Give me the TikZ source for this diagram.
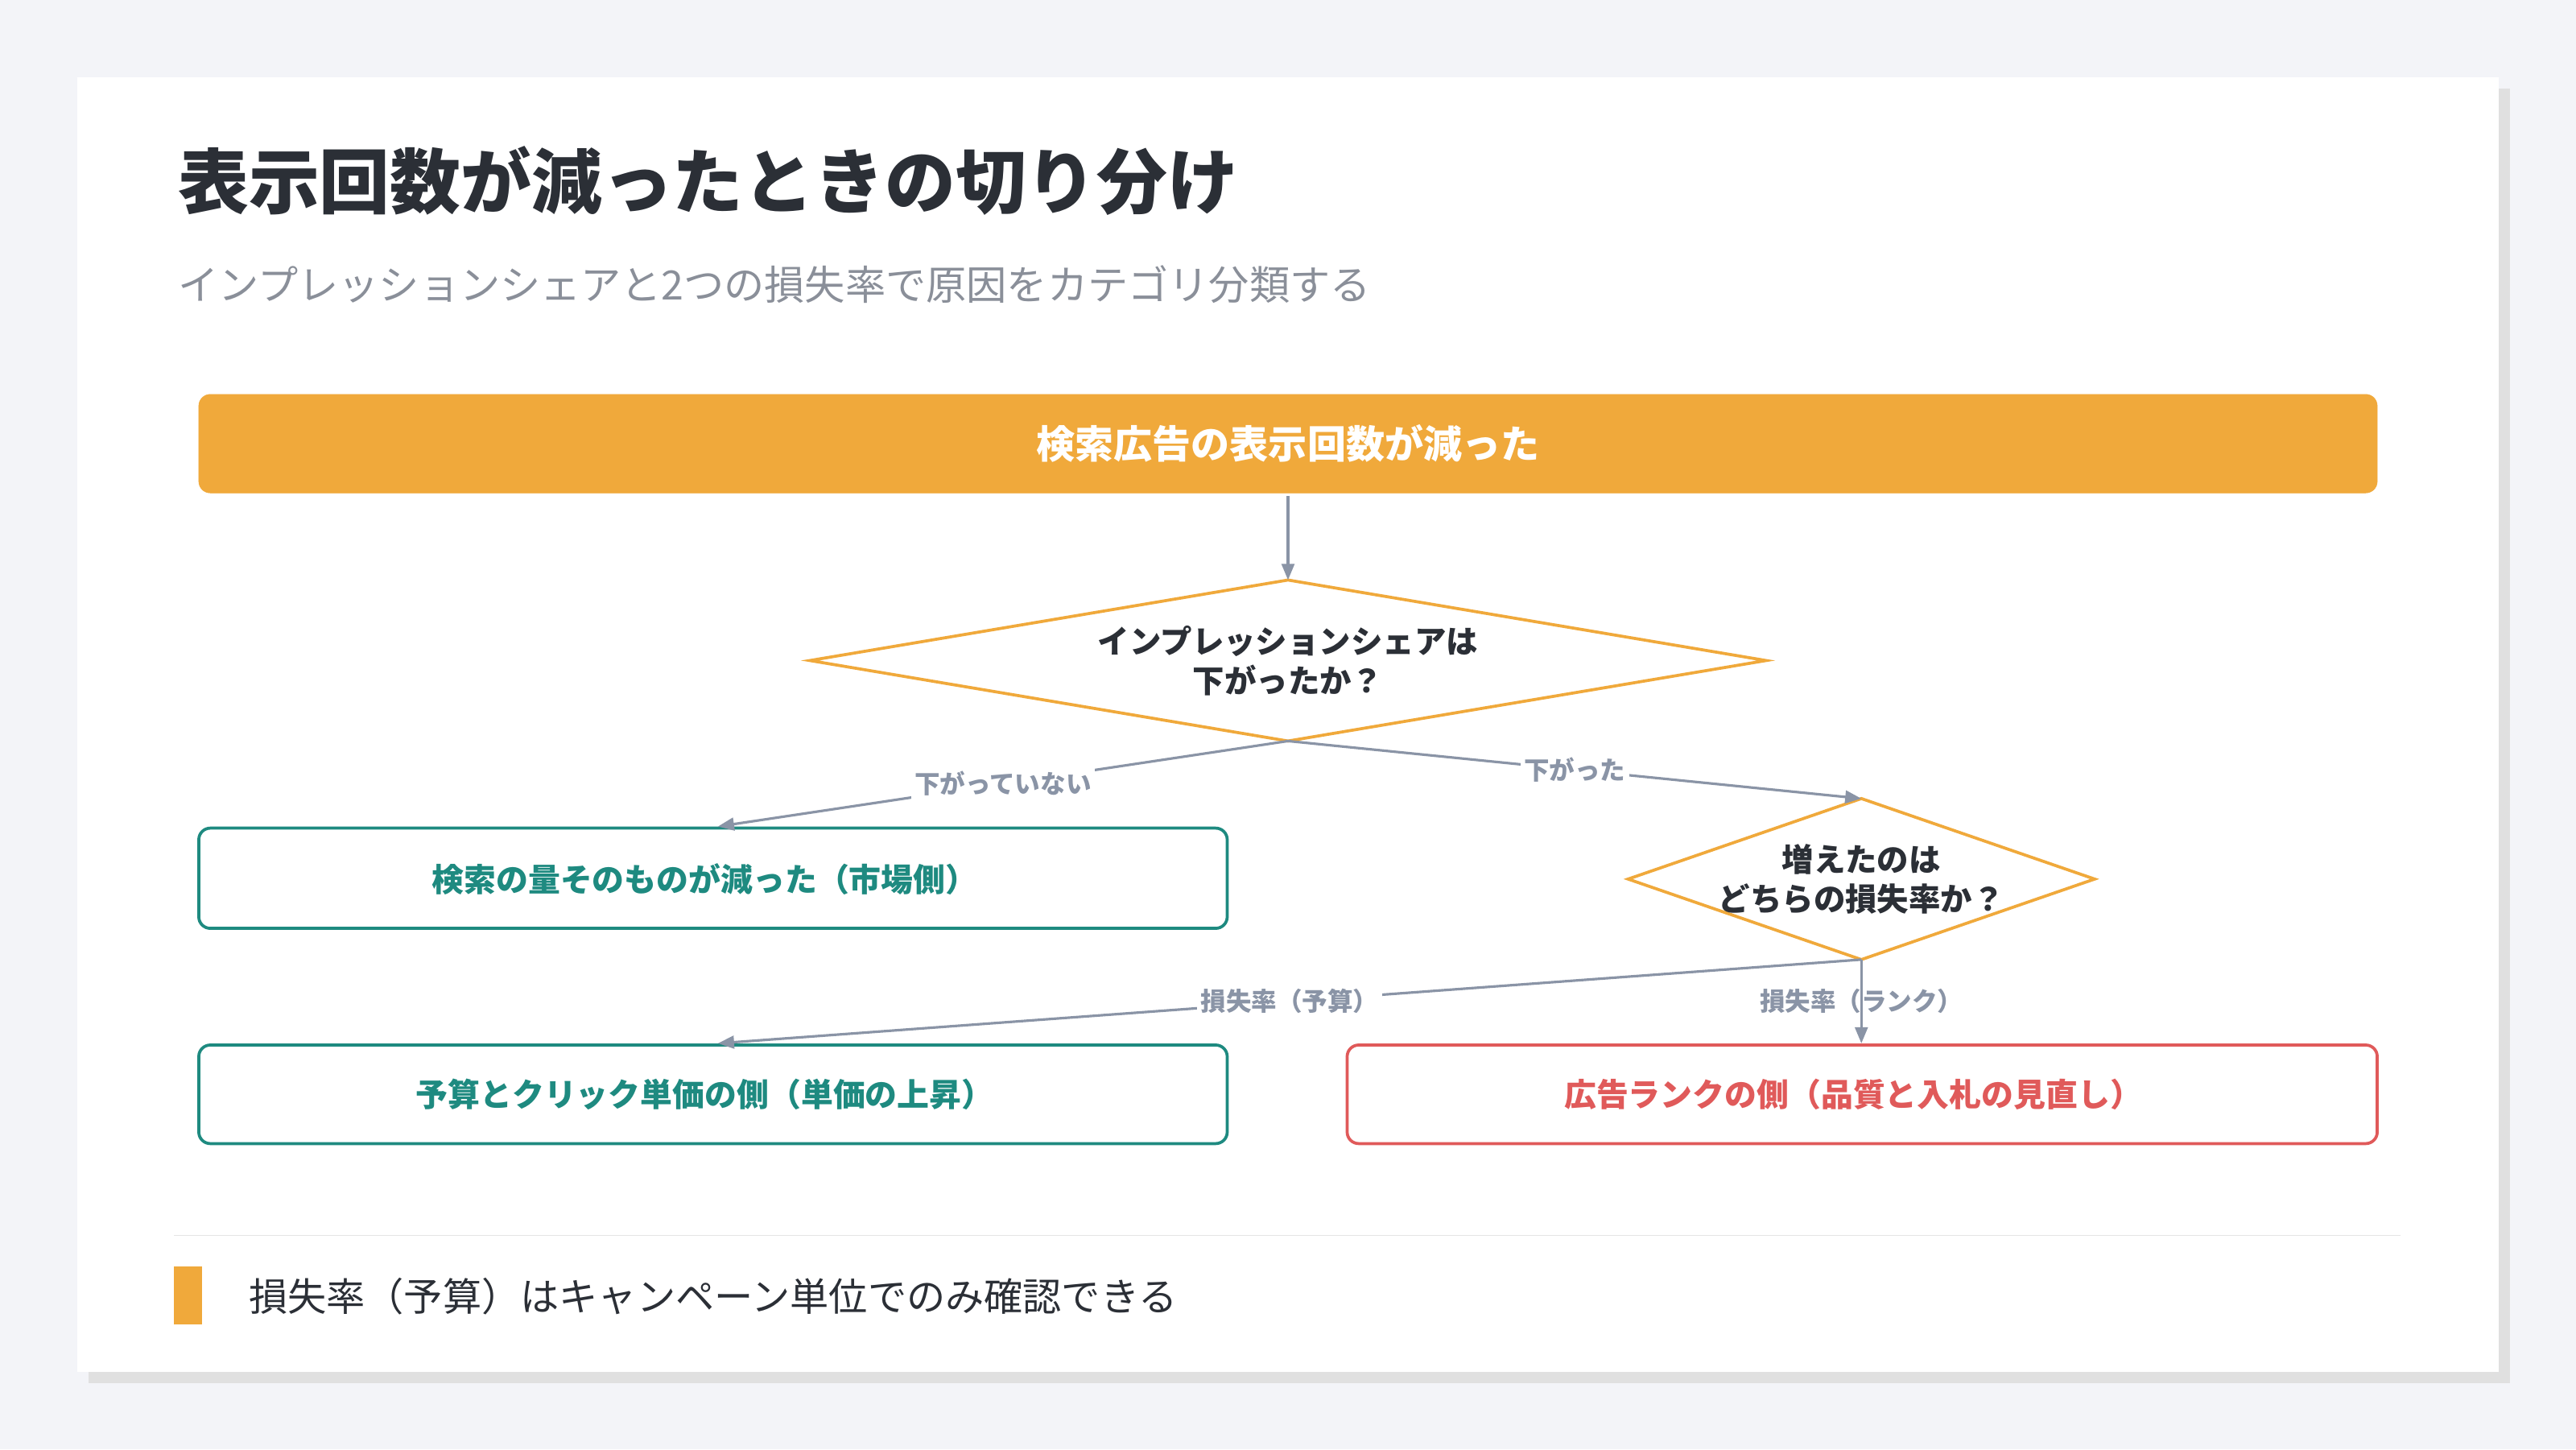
\documentclass[tikz,border=0pt]{standalone}
\usepackage{fontspec}
\setmainfont{Noto Sans CJK JP}
\usetikzlibrary{shapes.geometric,arrows.meta}
\definecolor{bgc}{HTML}{F3F4F8}
\definecolor{org}{HTML}{F0A93B}
\definecolor{teal}{HTML}{1E8A80}
\definecolor{redc}{HTML}{E05A5A}
\definecolor{edg}{HTML}{8A94A6}
\definecolor{ttl}{HTML}{2B2F36}
\definecolor{sub}{HTML}{8A8F99}
\begin{document}
\begin{tikzpicture}[x=0.5mm,y=-0.5mm,
  box/.style={draw,line width=2.6pt,rounded corners=10pt,fill=white},
  btxt/.style={font=\fontsize{27.8}{30}\selectfont\bfseries},
  dia/.style={font=\fontsize{27.5}{34}\selectfont\bfseries,text=ttl,align=center},
  edge/.style={draw=edg,line width=2.2pt,-{Triangle[length=14pt,width=11pt]}},
  lab/.style={fill=white,text=edg,font=\fontsize{22}{26}\selectfont\bfseries,inner sep=3pt}]
\fill[bgc] (0,0) rectangle (1568,882);
\useasboundingbox (0,0) rectangle (1568,882);
\fill[black!12] (54,54) rectangle (1528,842);
\fill[white] (47,47) rectangle (1521,835);
\node[anchor=west,text=ttl,font=\fontsize{61.2}{70}\selectfont\bfseries] (title) at (106,110) {表示回数が減ったときの切り分け};
\node[anchor=west,text=sub,font=\fontsize{35}{40}\selectfont] (subt) at (106,173) {インプレッションシェアと2つの損失率で原因をカテゴリ分類する};
\draw[org,fill=org,rounded corners=10pt] (121,240) rectangle (1447,300);
\node[text=white,font=\fontsize{33.5}{36}\selectfont\bfseries] (top) at (784,270) {検索広告の表示回数が減った};
\coordinate (topb) at (784,302);
\path[draw=org,line width=2.6pt,fill=white] (493,402) -- (784,353) -- (1075,402) -- (784,451) -- cycle;
\coordinate (d1t) at (784,353); \coordinate (d1b) at (784,451);
\node[dia] (d1) at (784,402) {インプレッションシェアは\\下がったか？};
\path[draw=org,line width=2.6pt,fill=white] (991,535) -- (1133,486) -- (1275,535) -- (1133,584) -- cycle;
\coordinate (d2t) at (1133,486); \coordinate (d2b) at (1133,584);
\node[dia] (d2) at (1133,535) {増えたのは\\どちらの損失率か？};
\draw[box,draw=teal] (121,504) rectangle (747,565);
\node[btxt,text=teal] (b1) at (429,535) {検索の量そのものが減った（市場側）};
\draw[box,draw=teal] (121,636) rectangle (747,696);
\node[btxt,text=teal] (b2) at (429,666) {予算とクリック単価の側（単価の上昇）};
\draw[box,draw=redc] (820,636) rectangle (1447,696);
\node[btxt,text=redc] (b3) at (1128,666) {広告ランクの側（品質と入札の見直し）};
\coordinate (b1t) at (437,503); \coordinate (b2t) at (437,635); \coordinate (b3t) at (1133,635);
\draw[edge] (topb) -- (d1t);
\draw[edge] (d1b) -- node[lab,pos=0.5]{下がっていない} (b1t);
\draw[edge] (d1b) -- node[lab,pos=0.5]{下がった} (d2t);
\draw[edge] (d2b) -- node[lab,pos=0.5]{損失率（予算）} (b2t);
\draw[edge] (d2b) -- node[lab,pos=0.5,fill=none]{損失率（ランク）} (b3t);
\draw[black!10,line width=1pt] (106,752) -- (1461,752);
\fill[org] (106,771) rectangle (123,806);
\node[anchor=west,text=ttl,font=\fontsize{33.6}{38}\selectfont] (foot) at (149,789) {損失率（予算）はキャンペーン単位でのみ確認できる};
\end{tikzpicture}
\end{document}
